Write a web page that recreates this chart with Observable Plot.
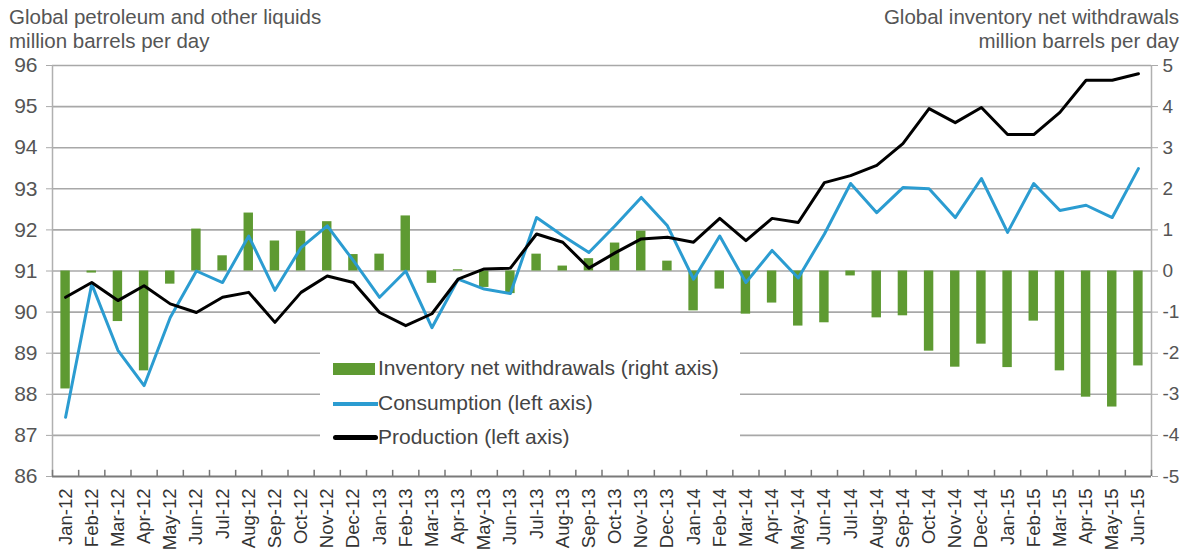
<!DOCTYPE html>
<html><head><meta charset="utf-8">
<script src="https://cdn.jsdelivr.net/npm/d3@7"></script>
<script src="https://cdn.jsdelivr.net/npm/@observablehq/plot@0.6"></script>
<style>
body{margin:0;background:#fff;font-family:"Liberation Sans",Arial,sans-serif;}
#wrap{position:relative;width:1183px;height:549px;overflow:hidden;}
.t{position:absolute;color:#555;font-size:20.5px;line-height:24px;white-space:nowrap;}
#legend{position:absolute;left:320px;top:345px;width:420px;height:110px;background:#fff;}
.li{position:absolute;left:13px;height:24px;font-size:21px;color:#444;white-space:nowrap;}
.li span.sw{position:absolute;left:0;}
.li span.lb{position:absolute;left:45px;top:0;line-height:24px;}
</style></head><body>
<div id="wrap">
<div id="chart"></div>
<div class="t" style="left:9px;top:5px">Global petroleum and other liquids<br>million barrels per day</div>
<div class="t" style="right:4px;top:5px;text-align:right">Global inventory net withdrawals<br>million barrels per day</div>
<div id="legend">
  <div class="li" style="top:11px"><span class="sw" style="top:7px;width:42px;height:12px;background:#5e9a32"></span><span class="lb">Inventory net withdrawals (right axis)</span></div>
  <div class="li" style="top:46px"><span class="sw" style="top:11px;width:45px;height:4px;background:#2b9cd1"></span><span class="lb">Consumption (left axis)</span></div>
  <div class="li" style="top:80px"><span class="sw" style="top:10px;width:45px;height:5px;background:#000;border-radius:3px"></span><span class="lb">Production (left axis)</span></div>
</div>
</div>
<script>
const months = ["Jan-12","Feb-12","Mar-12","Apr-12","May-12","Jun-12","Jul-12","Aug-12","Sep-12","Oct-12","Nov-12","Dec-12",
"Jan-13","Feb-13","Mar-13","Apr-13","May-13","Jun-13","Jul-13","Aug-13","Sep-13","Oct-13","Nov-13","Dec-13",
"Jan-14","Feb-14","Mar-14","Apr-14","May-14","Jun-14","Jul-14","Aug-14","Sep-14","Oct-14","Nov-14","Dec-14",
"Jan-15","Feb-15","Mar-15","Apr-15","May-15","Jun-15"];
const withdrawals = [-2.87,-0.05,-1.23,-2.43,-0.32,1.02,0.37,1.41,0.73,0.97,1.2,0.4,
0.41,1.34,-0.3,0.03,-0.4,-0.55,0.41,0.12,0.3,0.68,0.97,0.24,
-0.97,-0.44,-1.05,-0.78,-1.34,-1.26,-0.12,-1.14,-1.09,-1.95,-2.34,-1.78,
-2.35,-1.22,-2.43,-3.07,-3.31,-2.31];
const consumption = [87.44,90.68,89.07,88.21,89.87,91.0,90.72,91.85,90.53,91.57,92.1,91.25,
90.36,91.0,89.62,90.8,90.56,90.45,92.3,91.86,91.45,92.1,92.79,92.1,
90.8,91.85,90.72,91.5,90.83,91.9,93.13,92.42,93.03,93.0,92.3,93.25,
91.94,93.13,92.47,92.6,92.3,93.49];
const production = [90.36,90.72,90.28,90.64,90.2,89.99,90.36,90.48,89.75,90.48,90.88,90.72,
89.99,89.67,89.96,90.8,91.05,91.07,91.9,91.7,91.07,91.44,91.78,91.82,
91.7,92.28,91.74,92.28,92.18,93.15,93.32,93.57,94.1,94.95,94.61,94.98,
94.32,94.32,94.86,95.64,95.64,95.8];
const leftTicks = [86,87,88,89,90,91,92,93,94,95,96];
const offset = 91; // right-axis 0 aligns with left-axis 91

const rows = months.map((m,i)=>({m, w: withdrawals[i], c: consumption[i], p: production[i]}));
const W = 1183, H = 549, mL = 52, mR = 32, mT = 65, mB = 73;
const bw = (W - mL - mR) / months.length;

const chart = Plot.plot({
  width: W, height: H,
  marginLeft: mL, marginRight: mR, marginTop: mT, marginBottom: mB,
  style: {fontFamily: '"Liberation Sans", Arial, sans-serif', background: "transparent", overflow: "visible"},
  x: {type: "band", domain: months, paddingInner: 0.64, paddingOuter: 0.32, round: false, label: null},
  y: {domain: [86, 96], label: null},
  marks: [
    Plot.gridY(leftTicks.slice(1), {stroke: "#a8a8a8", strokeOpacity: 1, strokeWidth: 1.6}),
    Plot.ruleX([0], {x: () => months[0], dx: -bw/2, y1: 86, y2: 96, stroke: "#b0b0b0", strokeWidth: 1.5}),
    Plot.ruleX([0], {x: () => months[months.length-1], dx: bw/2, y1: 86, y2: 96, stroke: "#b0b0b0", strokeWidth: 1.5}),
    Plot.barY(rows, {x: "m", y1: offset, y2: d => d.w + offset, fill: "#5e9a32"}),
    Plot.lineY(rows, {x: "m", y: "c", stroke: "#2b9cd1", strokeWidth: 3}),
    Plot.lineY(rows, {x: "m", y: "p", stroke: "#000", strokeWidth: 3}),
    Plot.ruleY([86], {stroke: "#7a7a7a", strokeWidth: 2}),
    Plot.ruleX(months, {x: d => d, dx: -bw/2, y1: 86, y2: 86.15, stroke: "#777", strokeWidth: 1.5}),
    Plot.ruleX([months[months.length-1]], {x: d => d, dx: bw/2, y1: 86, y2: 86.15, stroke: "#777", strokeWidth: 1.5}),
    Plot.axisY(leftTicks, {anchor: "left", tickSize: 6, tickPadding: 9, fontSize: 21, color: "#555", stroke: "#aaa", label: null}),
    Plot.axisY(leftTicks, {anchor: "right", tickSize: 6, tickPadding: 5, fontSize: 19, color: "#555", stroke: "#aaa", label: null, tickFormat: d => String(d - offset)}),
    Plot.axisX({tickSize: 0, tickPadding: 12, tickRotate: -90, fontSize: 18.5, color: "#333", label: null})
  ]
});
document.getElementById("chart").appendChild(chart);
</script>
</body></html>
